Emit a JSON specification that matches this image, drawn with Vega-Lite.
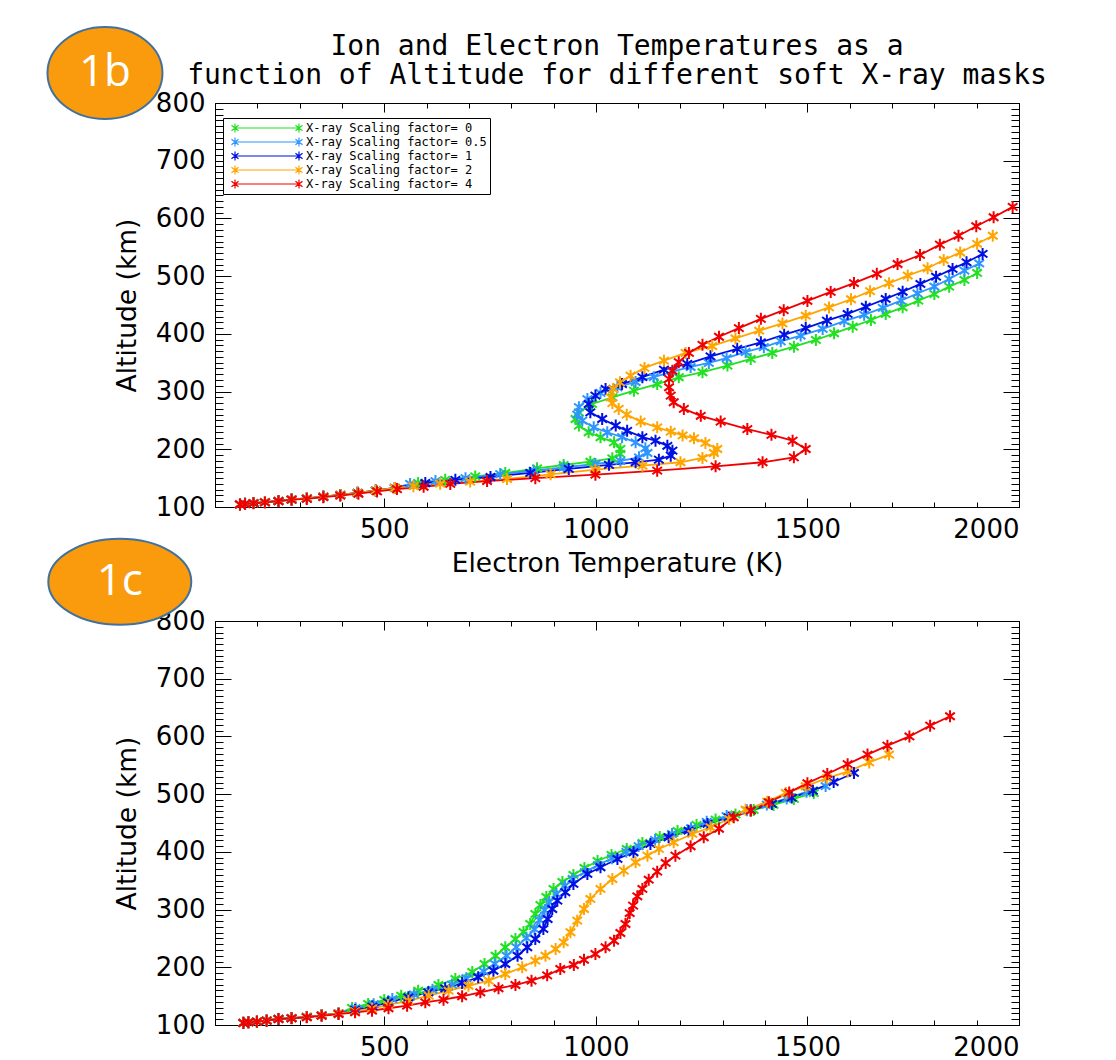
{
  "$schema": "https://vega.github.io/schema/vega-lite/v6.json",
  "padding": {"left": 42, "top": 22, "right": 0, "bottom": 0},
  "background": "white",
  "config": {
    "view": {"stroke": "black", "strokeWidth": 1},
    "axis": {
      "grid": false, "domain": false,
      "labelFont": "DejaVu Sans", "labelFontSize": 26, "labelColor": "black",
      "titleFont": "DejaVu Sans", "titleFontSize": 26.5, "titleFontWeight": "normal", "titleColor": "black",
      "tickColor": "black", "tickWidth": 1
    },
    "title": {"font": "DejaVu Sans Mono", "fontSize": 28, "fontWeight": "normal", "color": "black", "lineHeight": 29},
    "legend": {
      "orient": "none", "legendX": 8, "legendY": 15,
      "symbolType": "M-1,0L1,0M-1,-0.14L-1,0.14M-1.11,-0.085L-0.89,0.085M-1.11,0.085L-0.89,-0.085M1,-0.14L1,0.14M0.89,-0.085L1.11,0.085M0.89,0.085L1.11,-0.085",
      "symbolSize": 4096, "symbolStrokeWidth": 1.2, "symbolFillColor": "transparent",
      "clipHeight": 14, "rowPadding": 0, "symbolOffset": 8,
      "labelFont": "DejaVu Sans Mono", "labelFontSize": 12, "labelColor": "black", "labelOffset": 6, "labelLimit": 400,
      "padding": 3, "strokeColor": "black", "fillColor": "white", "cornerRadius": 0
    }
  },
  "datasets": {
    "electron": [
      {"factor":"0","temp":1901,"alt":505.5},{"factor":"0","temp":1871,"alt":493.4},{"factor":"0","temp":1835,"alt":481.8},{"factor":"0","temp":1800,"alt":469},{"factor":"0","temp":1762,"alt":457.5},{"factor":"0","temp":1725,"alt":446},{"factor":"0","temp":1685,"alt":434.5},{"factor":"0","temp":1650,"alt":424},{"factor":"0","temp":1607,"alt":412.5},{"factor":"0","temp":1563,"alt":401},{"factor":"0","temp":1520,"alt":389.4},{"factor":"0","temp":1468,"alt":377.8},{"factor":"0","temp":1417,"alt":367},{"factor":"0","temp":1366,"alt":356.5},{"factor":"0","temp":1311,"alt":345},{"factor":"0","temp":1252,"alt":333.5},{"factor":"0","temp":1196,"alt":324.8},{"factor":"0","temp":1145,"alt":313},{"factor":"0","temp":1090,"alt":301.6},{"factor":"0","temp":1039,"alt":290},{"factor":"0","temp":991,"alt":278.5},{"factor":"0","temp":960,"alt":264},{"factor":"0","temp":952,"alt":252.5},{"factor":"0","temp":960,"alt":241},{"factor":"0","temp":983,"alt":229.5},{"factor":"0","temp":1011,"alt":220.8},{"factor":"0","temp":1043,"alt":212},{"factor":"0","temp":1058,"alt":200.5},{"factor":"0","temp":1058,"alt":192},{"factor":"0","temp":1039,"alt":184.4},{"factor":"0","temp":987,"alt":178.5},{"factor":"0","temp":924,"alt":172.8},{"factor":"0","temp":861,"alt":167},{"factor":"0","temp":786,"alt":159},{"factor":"0","temp":715,"alt":153},{"factor":"0","temp":644,"alt":147},{"factor":"0","temp":580,"alt":141.6},{"factor":"0","temp":525,"alt":133},{"factor":"0","temp":480,"alt":128.5},{"factor":"0","temp":437,"alt":124.5},{"factor":"0","temp":396,"alt":121},{"factor":"0","temp":356,"alt":118},{"factor":"0","temp":317,"alt":115},{"factor":"0","temp":281,"alt":113},{"factor":"0","temp":250,"alt":110.5},{"factor":"0","temp":218,"alt":108.5},{"factor":"0","temp":191,"alt":106.8},{"factor":"0","temp":171,"alt":105.5},{"factor":"0","temp":159,"alt":104.5},
      {"factor":"0.5","temp":1906,"alt":522},{"factor":"0.5","temp":1871,"alt":509.5},{"factor":"0.5","temp":1835,"alt":495},{"factor":"0.5","temp":1800,"alt":482},{"factor":"0.5","temp":1760,"alt":470},{"factor":"0.5","temp":1721,"alt":457.5},{"factor":"0.5","temp":1678,"alt":445},{"factor":"0.5","temp":1634,"alt":433},{"factor":"0.5","temp":1587,"alt":422},{"factor":"0.5","temp":1536,"alt":408.5},{"factor":"0.5","temp":1484,"alt":397},{"factor":"0.5","temp":1437,"alt":387},{"factor":"0.5","temp":1397,"alt":377},{"factor":"0.5","temp":1354,"alt":368.6},{"factor":"0.5","temp":1309,"alt":358},{"factor":"0.5","temp":1267,"alt":349.6},{"factor":"0.5","temp":1224,"alt":342.6},{"factor":"0.5","temp":1181,"alt":334.5},{"factor":"0.5","temp":1137,"alt":325},{"factor":"0.5","temp":1094,"alt":316.6},{"factor":"0.5","temp":1051,"alt":307.5},{"factor":"0.5","temp":1011,"alt":297.6},{"factor":"0.5","temp":980,"alt":287},{"factor":"0.5","temp":960,"alt":273},{"factor":"0.5","temp":956,"alt":260},{"factor":"0.5","temp":968,"alt":249.6},{"factor":"0.5","temp":995,"alt":238},{"factor":"0.5","temp":1027,"alt":229.5},{"factor":"0.5","temp":1062,"alt":221},{"factor":"0.5","temp":1094,"alt":212},{"factor":"0.5","temp":1117,"alt":201.7},{"factor":"0.5","temp":1122,"alt":193.6},{"factor":"0.5","temp":1102,"alt":186},{"factor":"0.5","temp":1058,"alt":180},{"factor":"0.5","temp":999,"alt":174.5},{"factor":"0.5","temp":924,"alt":168.8},{"factor":"0.5","temp":853,"alt":163},{"factor":"0.5","temp":774,"alt":157},{"factor":"0.5","temp":692,"alt":150},{"factor":"0.5","temp":621,"alt":145},{"factor":"0.5","temp":561,"alt":140},{"factor":"0.5","temp":525,"alt":133},{"factor":"0.5","temp":480,"alt":128.5},{"factor":"0.5","temp":437,"alt":124.5},{"factor":"0.5","temp":396,"alt":121},{"factor":"0.5","temp":356,"alt":118},{"factor":"0.5","temp":317,"alt":115},{"factor":"0.5","temp":281,"alt":113},{"factor":"0.5","temp":250,"alt":110.5},{"factor":"0.5","temp":218,"alt":108.5},{"factor":"0.5","temp":191,"alt":106.8},{"factor":"0.5","temp":171,"alt":105.5},{"factor":"0.5","temp":159,"alt":104.5},
      {"factor":"1","temp":1914,"alt":538.5},{"factor":"1","temp":1876,"alt":524},{"factor":"1","temp":1843,"alt":512.5},{"factor":"1","temp":1804,"alt":499},{"factor":"1","temp":1767,"alt":486.5},{"factor":"1","temp":1725,"alt":473},{"factor":"1","temp":1685,"alt":460.5},{"factor":"1","temp":1638,"alt":447},{"factor":"1","temp":1595,"alt":434.5},{"factor":"1","temp":1546,"alt":423},{"factor":"1","temp":1496,"alt":410},{"factor":"1","temp":1445,"alt":398.6},{"factor":"1","temp":1390,"alt":385.4},{"factor":"1","temp":1334,"alt":374},{"factor":"1","temp":1271,"alt":361},{"factor":"1","temp":1216,"alt":348},{"factor":"1","temp":1161,"alt":338},{"factor":"1","temp":1110,"alt":325},{"factor":"1","temp":1062,"alt":313},{"factor":"1","temp":1023,"alt":304.5},{"factor":"1","temp":999,"alt":293},{"factor":"1","temp":983,"alt":278.5},{"factor":"1","temp":987,"alt":264},{"factor":"1","temp":1015,"alt":252.5},{"factor":"1","temp":1047,"alt":241},{"factor":"1","temp":1074,"alt":232},{"factor":"1","temp":1110,"alt":221},{"factor":"1","temp":1141,"alt":215},{"factor":"1","temp":1169,"alt":206},{"factor":"1","temp":1181,"alt":197.6},{"factor":"1","temp":1177,"alt":189},{"factor":"1","temp":1149,"alt":182},{"factor":"1","temp":1094,"alt":177.5},{"factor":"1","temp":1031,"alt":173},{"factor":"1","temp":936,"alt":166},{"factor":"1","temp":845,"alt":159},{"factor":"1","temp":751,"alt":152},{"factor":"1","temp":668,"alt":147},{"factor":"1","temp":597,"alt":141.6},{"factor":"1","temp":525,"alt":133},{"factor":"1","temp":480,"alt":128.5},{"factor":"1","temp":437,"alt":124.5},{"factor":"1","temp":396,"alt":121},{"factor":"1","temp":356,"alt":118},{"factor":"1","temp":317,"alt":115},{"factor":"1","temp":281,"alt":113},{"factor":"1","temp":250,"alt":110.5},{"factor":"1","temp":218,"alt":108.5},{"factor":"1","temp":191,"alt":106.8},{"factor":"1","temp":171,"alt":105.5},{"factor":"1","temp":159,"alt":104.5},
      {"factor":"2","temp":1938,"alt":570},{"factor":"2","temp":1901,"alt":556},{"factor":"2","temp":1861,"alt":541},{"factor":"2","temp":1822,"alt":528},{"factor":"2","temp":1784,"alt":513.7},{"factor":"2","temp":1737,"alt":501},{"factor":"2","temp":1693,"alt":487.7},{"factor":"2","temp":1648,"alt":474},{"factor":"2","temp":1603,"alt":460},{"factor":"2","temp":1551,"alt":445.8},{"factor":"2","temp":1496,"alt":431.5},{"factor":"2","temp":1441,"alt":418},{"factor":"2","temp":1386,"alt":405.5},{"factor":"2","temp":1330,"alt":392},{"factor":"2","temp":1275,"alt":379},{"factor":"2","temp":1212,"alt":367},{"factor":"2","temp":1161,"alt":353.5},{"factor":"2","temp":1115,"alt":341},{"factor":"2","temp":1082,"alt":327.6},{"factor":"2","temp":1057,"alt":316},{"factor":"2","temp":1041,"alt":304.5},{"factor":"2","temp":1035,"alt":290},{"factor":"2","temp":1039,"alt":280},{"factor":"2","temp":1054,"alt":270},{"factor":"2","temp":1073,"alt":260},{"factor":"2","temp":1106,"alt":248},{"factor":"2","temp":1145,"alt":238},{"factor":"2","temp":1177,"alt":230.5},{"factor":"2","temp":1205,"alt":224},{"factor":"2","temp":1232,"alt":219},{"factor":"2","temp":1259,"alt":211},{"factor":"2","temp":1287,"alt":200.5},{"factor":"2","temp":1279,"alt":193.6},{"factor":"2","temp":1252,"alt":185},{"factor":"2","temp":1200,"alt":177.5},{"factor":"2","temp":1110,"alt":171.6},{"factor":"2","temp":999,"alt":164.6},{"factor":"2","temp":893,"alt":156.7},{"factor":"2","temp":790,"alt":148.5},{"factor":"2","temp":703,"alt":144},{"factor":"2","temp":632,"alt":140.4},{"factor":"2","temp":569,"alt":136},{"factor":"2","temp":525,"alt":133},{"factor":"2","temp":480,"alt":128.5},{"factor":"2","temp":437,"alt":124.5},{"factor":"2","temp":396,"alt":121},{"factor":"2","temp":356,"alt":118},{"factor":"2","temp":317,"alt":115},{"factor":"2","temp":281,"alt":113},{"factor":"2","temp":250,"alt":110.5},{"factor":"2","temp":218,"alt":108.5},{"factor":"2","temp":191,"alt":106.8},{"factor":"2","temp":171,"alt":105.5},{"factor":"2","temp":159,"alt":104.5},
      {"factor":"4","temp":1985,"alt":620},{"factor":"4","temp":1940,"alt":602},{"factor":"4","temp":1899,"alt":586.5},{"factor":"4","temp":1857,"alt":570},{"factor":"4","temp":1813,"alt":554.6},{"factor":"4","temp":1766,"alt":536.7},{"factor":"4","temp":1713,"alt":521},{"factor":"4","temp":1664,"alt":504},{"factor":"4","temp":1610,"alt":488},{"factor":"4","temp":1555,"alt":472.6},{"factor":"4","temp":1500,"alt":457},{"factor":"4","temp":1444,"alt":441},{"factor":"4","temp":1390,"alt":426},{"factor":"4","temp":1338,"alt":410},{"factor":"4","temp":1291,"alt":395},{"factor":"4","temp":1252,"alt":381},{"factor":"4","temp":1220,"alt":367},{"factor":"4","temp":1196,"alt":351},{"factor":"4","temp":1181,"alt":336},{"factor":"4","temp":1173,"alt":322},{"factor":"4","temp":1173,"alt":307.5},{"factor":"4","temp":1177,"alt":293},{"factor":"4","temp":1184,"alt":281.5},{"factor":"4","temp":1208,"alt":270},{"factor":"4","temp":1248,"alt":258},{"factor":"4","temp":1295,"alt":248},{"factor":"4","temp":1358,"alt":235},{"factor":"4","temp":1415,"alt":225},{"factor":"4","temp":1465,"alt":215},{"factor":"4","temp":1496,"alt":200.5},{"factor":"4","temp":1468,"alt":186},{"factor":"4","temp":1394,"alt":177.5},{"factor":"4","temp":1283,"alt":170.5},{"factor":"4","temp":1145,"alt":163},{"factor":"4","temp":999,"alt":156},{"factor":"4","temp":857,"alt":150},{"factor":"4","temp":743,"alt":145},{"factor":"4","temp":656,"alt":140},{"factor":"4","temp":593,"alt":135},{"factor":"4","temp":530,"alt":131},{"factor":"4","temp":483,"alt":127},{"factor":"4","temp":439,"alt":123},{"factor":"4","temp":396,"alt":119.6},{"factor":"4","temp":356,"alt":117},{"factor":"4","temp":317,"alt":114},{"factor":"4","temp":281,"alt":112.7},{"factor":"4","temp":250,"alt":110},{"factor":"4","temp":218,"alt":108},{"factor":"4","temp":191,"alt":106.4},{"factor":"4","temp":171,"alt":105.2},{"factor":"4","temp":159,"alt":104.3}
    ],
    "ion": [
      {"factor":"0","temp":1515,"alt":502},{"factor":"0","temp":1468,"alt":491.7},{"factor":"0","temp":1420,"alt":481.3},{"factor":"0","temp":1373,"alt":472.6},{"factor":"0","temp":1330,"alt":464.8},{"factor":"0","temp":1283,"alt":456},{"factor":"0","temp":1238,"alt":446.7},{"factor":"0","temp":1193,"alt":436.2},{"factor":"0","temp":1151,"alt":425.8},{"factor":"0","temp":1110,"alt":415.4},{"factor":"0","temp":1073,"alt":405},{"factor":"0","temp":1037,"alt":394.6},{"factor":"0","temp":1004,"alt":384.2},{"factor":"0","temp":973,"alt":372},{"factor":"0","temp":947,"alt":360},{"factor":"0","temp":921,"alt":347.8},{"factor":"0","temp":900,"alt":335.7},{"factor":"0","temp":883,"alt":321.8},{"factor":"0","temp":869,"alt":308},{"factor":"0","temp":857,"alt":292.4},{"factor":"0","temp":845,"alt":275},{"factor":"0","temp":829,"alt":261.2},{"factor":"0","temp":810,"alt":249},{"factor":"0","temp":786,"alt":234.7},{"factor":"0","temp":763,"alt":220},{"factor":"0","temp":737,"alt":205.7},{"factor":"0","temp":708,"alt":191.9},{"factor":"0","temp":668,"alt":179.7},{"factor":"0","temp":628,"alt":169.3},{"factor":"0","temp":580,"alt":159.4},{"factor":"0","temp":540,"alt":150.8},{"factor":"0","temp":500,"alt":143.3},{"factor":"0","temp":462,"alt":136.4},{"factor":"0","temp":424,"alt":129.5},{"factor":"0","temp":392,"alt":120},{"factor":"0","temp":352,"alt":116.8},{"factor":"0","temp":317,"alt":114},{"factor":"0","temp":281,"alt":112},{"factor":"0","temp":250,"alt":110.6},{"factor":"0","temp":222,"alt":107.8},{"factor":"0","temp":199,"alt":106},{"factor":"0","temp":179,"alt":104.9},{"factor":"0","temp":167,"alt":103.7},
      {"factor":"0.5","temp":1543,"alt":514},{"factor":"0.5","temp":1498,"alt":504},{"factor":"0.5","temp":1451,"alt":492.5},{"factor":"0.5","temp":1404,"alt":482},{"factor":"0.5","temp":1357,"alt":472},{"factor":"0.5","temp":1309,"alt":462},{"factor":"0.5","temp":1262,"alt":452},{"factor":"0.5","temp":1225,"alt":441},{"factor":"0.5","temp":1180,"alt":431},{"factor":"0.5","temp":1140,"alt":420.6},{"factor":"0.5","temp":1101,"alt":410},{"factor":"0.5","temp":1072,"alt":400},{"factor":"0.5","temp":1038,"alt":389},{"factor":"0.5","temp":1005,"alt":377},{"factor":"0.5","temp":974,"alt":365},{"factor":"0.5","temp":945,"alt":353},{"factor":"0.5","temp":927,"alt":341},{"factor":"0.5","temp":907,"alt":327},{"factor":"0.5","temp":890,"alt":313},{"factor":"0.5","temp":879,"alt":299},{"factor":"0.5","temp":867,"alt":282},{"factor":"0.5","temp":855,"alt":266},{"factor":"0.5","temp":836,"alt":251},{"factor":"0.5","temp":812,"alt":235},{"factor":"0.5","temp":789,"alt":220},{"factor":"0.5","temp":761,"alt":206},{"factor":"0.5","temp":735,"alt":193},{"factor":"0.5","temp":694,"alt":181},{"factor":"0.5","temp":660,"alt":170},{"factor":"0.5","temp":614,"alt":161},{"factor":"0.5","temp":570,"alt":153},{"factor":"0.5","temp":519,"alt":145},{"factor":"0.5","temp":475,"alt":136},{"factor":"0.5","temp":432,"alt":129},{"factor":"0.5","temp":392,"alt":120},{"factor":"0.5","temp":352,"alt":116.8},{"factor":"0.5","temp":317,"alt":114},{"factor":"0.5","temp":281,"alt":112},{"factor":"0.5","temp":250,"alt":110.6},{"factor":"0.5","temp":222,"alt":107.8},{"factor":"0.5","temp":199,"alt":106},{"factor":"0.5","temp":179,"alt":104.9},{"factor":"0.5","temp":167,"alt":103.7},
      {"factor":"1","temp":1610,"alt":536.7},{"factor":"1","temp":1562,"alt":521},{"factor":"1","temp":1513,"alt":506},{"factor":"1","temp":1463,"alt":494},{"factor":"1","temp":1416,"alt":483},{"factor":"1","temp":1366,"alt":472},{"factor":"1","temp":1314,"alt":459.6},{"factor":"1","temp":1264,"alt":448.4},{"factor":"1","temp":1219,"alt":436.7},{"factor":"1","temp":1172,"alt":425.3},{"factor":"1","temp":1129,"alt":413.7},{"factor":"1","temp":1089,"alt":399.3},{"factor":"1","temp":1051,"alt":387.7},{"factor":"1","temp":1011,"alt":373.3},{"factor":"1","temp":980,"alt":361.7},{"factor":"1","temp":947,"alt":344.4},{"factor":"1","temp":928,"alt":330},{"factor":"1","temp":909,"alt":315.4},{"factor":"1","temp":897,"alt":301},{"factor":"1","temp":886,"alt":283.7},{"factor":"1","temp":876,"alt":266.4},{"factor":"1","temp":857,"alt":249},{"factor":"1","temp":838,"alt":234.7},{"factor":"1","temp":815,"alt":220},{"factor":"1","temp":786,"alt":205.7},{"factor":"1","temp":758,"alt":194},{"factor":"1","temp":722,"alt":182.7},{"factor":"1","temp":684,"alt":172.8},{"factor":"1","temp":644,"alt":163.6},{"factor":"1","temp":604,"alt":156.7},{"factor":"1","temp":557,"alt":148},{"factor":"1","temp":509,"alt":139.3},{"factor":"1","temp":472,"alt":132},{"factor":"1","temp":431,"alt":126},{"factor":"1","temp":392,"alt":120},{"factor":"1","temp":352,"alt":116.8},{"factor":"1","temp":317,"alt":114},{"factor":"1","temp":281,"alt":112},{"factor":"1","temp":250,"alt":110.6},{"factor":"1","temp":222,"alt":107.8},{"factor":"1","temp":199,"alt":106},{"factor":"1","temp":179,"alt":104.9},{"factor":"1","temp":167,"alt":103.7},
      {"factor":"2","temp":1693,"alt":568.5},{"factor":"2","temp":1646,"alt":555},{"factor":"2","temp":1595,"alt":539},{"factor":"2","temp":1546,"alt":527.6},{"factor":"2","temp":1496,"alt":513.7},{"factor":"2","temp":1449,"alt":502},{"factor":"2","temp":1405,"alt":487},{"factor":"2","temp":1354,"alt":473},{"factor":"2","temp":1315,"alt":457},{"factor":"2","temp":1271,"alt":442.6},{"factor":"2","temp":1228,"alt":431},{"factor":"2","temp":1184,"alt":416.6},{"factor":"2","temp":1149,"alt":405},{"factor":"2","temp":1122,"alt":393.4},{"factor":"2","temp":1094,"alt":382},{"factor":"2","temp":1066,"alt":367.4},{"factor":"2","temp":1039,"alt":353},{"factor":"2","temp":1011,"alt":335.7},{"factor":"2","temp":987,"alt":318.4},{"factor":"2","temp":972,"alt":301},{"factor":"2","temp":956,"alt":280.8},{"factor":"2","temp":940,"alt":260.7},{"factor":"2","temp":924,"alt":243.3},{"factor":"2","temp":905,"alt":231.7},{"factor":"2","temp":881,"alt":220},{"factor":"2","temp":857,"alt":211.4},{"factor":"2","temp":826,"alt":200},{"factor":"2","temp":786,"alt":188.4},{"factor":"2","temp":747,"alt":176.8},{"factor":"2","temp":699,"alt":168},{"factor":"2","temp":652,"alt":159.4},{"factor":"2","temp":605,"alt":150.8},{"factor":"2","temp":557,"alt":142},{"factor":"2","temp":509,"alt":134.7},{"factor":"2","temp":471,"alt":128.6},{"factor":"2","temp":431,"alt":124},{"factor":"2","temp":392,"alt":120},{"factor":"2","temp":352,"alt":116.8},{"factor":"2","temp":317,"alt":114},{"factor":"2","temp":281,"alt":112},{"factor":"2","temp":250,"alt":110.6},{"factor":"2","temp":222,"alt":107.8},{"factor":"2","temp":199,"alt":106},{"factor":"2","temp":179,"alt":104.9},{"factor":"2","temp":167,"alt":103.7},
      {"factor":"4","temp":1837,"alt":635},{"factor":"4","temp":1790,"alt":618.7},{"factor":"4","temp":1741,"alt":600},{"factor":"4","temp":1689,"alt":584},{"factor":"4","temp":1642,"alt":568.5},{"factor":"4","temp":1595,"alt":552},{"factor":"4","temp":1547,"alt":535},{"factor":"4","temp":1500,"alt":519},{"factor":"4","temp":1457,"alt":503},{"factor":"4","temp":1409,"alt":486},{"factor":"4","temp":1366,"alt":471.4},{"factor":"4","temp":1326,"alt":460},{"factor":"4","temp":1291,"alt":440},{"factor":"4","temp":1255,"alt":425.3},{"factor":"4","temp":1224,"alt":409.7},{"factor":"4","temp":1188,"alt":393.4},{"factor":"4","temp":1165,"alt":380.8},{"factor":"4","temp":1145,"alt":365.7},{"factor":"4","temp":1125,"alt":351.8},{"factor":"4","temp":1110,"alt":335.7},{"factor":"4","temp":1098,"alt":323},{"factor":"4","temp":1088,"alt":306.8},{"factor":"4","temp":1080,"alt":294},{"factor":"4","temp":1070,"alt":275},{"factor":"4","temp":1058,"alt":259.4},{"factor":"4","temp":1043,"alt":246},{"factor":"4","temp":1023,"alt":234.7},{"factor":"4","temp":999,"alt":223},{"factor":"4","temp":972,"alt":213},{"factor":"4","temp":948,"alt":204},{"factor":"4","temp":916,"alt":197},{"factor":"4","temp":885,"alt":186},{"factor":"4","temp":848,"alt":176.8},{"factor":"4","temp":810,"alt":169.3},{"factor":"4","temp":770,"alt":163.6},{"factor":"4","temp":727,"alt":156.7},{"factor":"4","temp":684,"alt":149.8},{"factor":"4","temp":640,"alt":143.8},{"factor":"4","temp":597,"alt":139.3},{"factor":"4","temp":554,"alt":133.4},{"factor":"4","temp":510,"alt":129},{"factor":"4","temp":471,"alt":124.8},{"factor":"4","temp":431,"alt":122},{"factor":"4","temp":392,"alt":119},{"factor":"4","temp":352,"alt":116},{"factor":"4","temp":317,"alt":113.3},{"factor":"4","temp":281,"alt":111.6},{"factor":"4","temp":250,"alt":110.4},{"factor":"4","temp":222,"alt":107.5},{"factor":"4","temp":199,"alt":105.7},{"factor":"4","temp":179,"alt":104.7},{"factor":"4","temp":167,"alt":103.5}
    ]
  },
  "vconcat": [
    {
      "width": 804, "height": 404,
      "title": {"text": ["Ion and Electron Temperatures as a", "function of Altitude for different soft X-ray masks"], "anchor": "middle", "frame": "group", "offset": -67},
      "data": {"name": "electron"},
      "layer": [
        {
          "mark": {"type": "line", "strokeWidth": 1.8},
          "encoding": {
            "x": {"field": "temp", "type": "quantitative", "scale": {"domain": [100, 2000], "nice": false, "zero": false},
                  "axis": {"orient": "bottom", "values": [500, 1000, 1500, 2000], "format": "d", "tickSize": -9, "labelPadding": 18, "title": "Electron Temperature (K)", "titlePadding": 8}},
            "y": {"field": "alt", "type": "quantitative", "scale": {"domain": [100, 800], "nice": false, "zero": false},
                  "axis": {"orient": "left", "values": [100, 200, 300, 400, 500, 600, 700, 800], "format": "d", "tickSize": -16, "labelPadding": 26, "title": "Altitude (km)", "titlePadding": 14}},
            "color": {"field": "factor", "type": "nominal",
                      "scale": {"domain": ["0", "0.5", "1", "2", "4"], "range": ["#22E022", "#2E95FF", "#0010E0", "#FFA500", "#F00000"]},
                      "legend": {"title": null, "labelExpr": "'X-ray Scaling factor= ' + datum.label"}},
            "order": {"value": null}
          }
        },
        {
          "mark": {"type": "point", "shape": "M0,-1L0,1M-0.8,-0.6L0.8,0.6M-0.8,0.6L0.8,-0.6", "size": 144, "filled": false, "strokeWidth": 2, "opacity": 1},
          "encoding": {
            "x": {"field": "temp", "type": "quantitative", "scale": {"domain": [100, 2000], "nice": false, "zero": false},
                  "axis": {"orient": "bottom", "values": [100, 200, 300, 400, 500, 600, 700, 800, 900, 1000, 1100, 1200, 1300, 1400, 1500, 1600, 1700, 1800, 1900, 2000], "tickSize": -5, "labels": false, "title": null}},
            "y": {"field": "alt", "type": "quantitative", "scale": {"domain": [100, 800], "nice": false, "zero": false},
                  "axis": {"orient": "left", "values": [100,110,120,130,140,150,160,170,180,190,200,210,220,230,240,250,260,270,280,290,300,310,320,330,340,350,360,370,380,390,400,410,420,430,440,450,460,470,480,490,500,510,520,530,540,550,560,570,580,590,600,610,620,630,640,650,660,670,680,690,700,710,720,730,740,750,760,770,780,790,800], "tickSize": -8, "labels": false, "title": null}},
            "color": {"field": "factor", "type": "nominal",
                      "scale": {"domain": ["0", "0.5", "1", "2", "4"], "range": ["#22E022", "#2E95FF", "#0010E0", "#FFA500", "#F00000"]},
                      "legend": {"title": null, "labelExpr": "'X-ray Scaling factor= ' + datum.label"}}
          }
        },
        {
          "data": {"values": [{"label": "1b", "temp": -160, "alt": 852}]},
          "mark": {"type": "point", "shape": "M-1,0C-1,-0.442,-0.552,-0.8,0,-0.8C0.552,-0.8,1,-0.442,1,0C1,0.442,0.552,0.8,0,0.8C-0.552,0.8,-1,0.442,-1,0Z", "size": 13225, "filled": true, "fill": "#F99B0C", "stroke": "#41719C", "strokeWidth": 2, "opacity": 1},
          "encoding": {
            "x": {"field": "temp", "type": "quantitative", "scale": {"domain": [100, 2000], "nice": false, "zero": false},
                  "axis": {"orient": "top", "values": [500, 1000, 1500, 2000], "tickSize": -9, "labels": false, "title": null}},
            "y": {"field": "alt", "type": "quantitative", "scale": {"domain": [100, 800], "nice": false, "zero": false},
                  "axis": {"orient": "right", "values": [100, 200, 300, 400, 500, 600, 700, 800], "tickSize": -16, "labels": false, "title": null}}
          }
        },
        {
          "data": {"values": [{"label": "1b", "temp": -160, "alt": 852}]},
          "mark": {"type": "text", "font": "Open Sans", "fontSize": 44, "color": "white", "align": "center", "baseline": "middle"},
          "encoding": {
            "x": {"field": "temp", "type": "quantitative", "scale": {"domain": [100, 2000], "nice": false, "zero": false},
                  "axis": {"orient": "top", "values": [100, 200, 300, 400, 500, 600, 700, 800, 900, 1000, 1100, 1200, 1300, 1400, 1500, 1600, 1700, 1800, 1900, 2000], "tickSize": -5, "labels": false, "title": null}},
            "y": {"field": "alt", "type": "quantitative", "scale": {"domain": [100, 800], "nice": false, "zero": false},
                  "axis": {"orient": "right", "values": [100,110,120,130,140,150,160,170,180,190,200,210,220,230,240,250,260,270,280,290,300,310,320,330,340,350,360,370,380,390,400,410,420,430,440,450,460,470,480,490,500,510,520,530,540,550,560,570,580,590,600,610,620,630,640,650,660,670,680,690,700,710,720,730,740,750,760,770,780,790,800], "tickSize": -8, "labels": false, "title": null}},
            "text": {"field": "label"}
          }
        }
      ],
      "resolve": {"axis": {"x": "independent", "y": "independent"}}
    },
    {
      "width": 804, "height": 404,
      "data": {"name": "ion"},
      "layer": [
        {
          "mark": {"type": "line", "strokeWidth": 1.8},
          "encoding": {
            "x": {"field": "temp", "type": "quantitative", "scale": {"domain": [100, 2000], "nice": false, "zero": false},
                  "axis": {"orient": "bottom", "values": [500, 1000, 1500, 2000], "format": "d", "tickSize": -9, "labelPadding": 18, "title": null}},
            "y": {"field": "alt", "type": "quantitative", "scale": {"domain": [100, 800], "nice": false, "zero": false},
                  "axis": {"orient": "left", "values": [100, 200, 300, 400, 500, 600, 700, 800], "format": "d", "tickSize": -16, "labelPadding": 26, "title": "Altitude (km)", "titlePadding": 14}},
            "color": {"field": "factor", "type": "nominal",
                      "scale": {"domain": ["0", "0.5", "1", "2", "4"], "range": ["#22E022", "#2E95FF", "#0010E0", "#FFA500", "#F00000"]},
                      "legend": {"title": null, "labelExpr": "'X-ray Scaling factor= ' + datum.label"}},
            "order": {"value": null}
          }
        },
        {
          "mark": {"type": "point", "shape": "M0,-1L0,1M-0.8,-0.6L0.8,0.6M-0.8,0.6L0.8,-0.6", "size": 144, "filled": false, "strokeWidth": 2, "opacity": 1},
          "encoding": {
            "x": {"field": "temp", "type": "quantitative", "scale": {"domain": [100, 2000], "nice": false, "zero": false},
                  "axis": {"orient": "bottom", "values": [100, 200, 300, 400, 500, 600, 700, 800, 900, 1000, 1100, 1200, 1300, 1400, 1500, 1600, 1700, 1800, 1900, 2000], "tickSize": -5, "labels": false, "title": null}},
            "y": {"field": "alt", "type": "quantitative", "scale": {"domain": [100, 800], "nice": false, "zero": false},
                  "axis": {"orient": "left", "values": [100,110,120,130,140,150,160,170,180,190,200,210,220,230,240,250,260,270,280,290,300,310,320,330,340,350,360,370,380,390,400,410,420,430,440,450,460,470,480,490,500,510,520,530,540,550,560,570,580,590,600,610,620,630,640,650,660,670,680,690,700,710,720,730,740,750,760,770,780,790,800], "tickSize": -8, "labels": false, "title": null}},
            "color": {"field": "factor", "type": "nominal",
                      "scale": {"domain": ["0", "0.5", "1", "2", "4"], "range": ["#22E022", "#2E95FF", "#0010E0", "#FFA500", "#F00000"]},
                      "legend": {"title": null, "labelExpr": "'X-ray Scaling factor= ' + datum.label"}}
          }
        },
        {
          "data": {"values": [{"label": "1c", "temp": -125, "alt": 868}]},
          "mark": {"type": "point", "shape": "M-1,0C-1,-0.331,-0.552,-0.6,0,-0.6C0.552,-0.6,1,-0.331,1,0C1,0.331,0.552,0.6,0,0.6C-0.552,0.6,-1,0.331,-1,0Z", "size": 20449, "filled": true, "fill": "#F99B0C", "stroke": "#41719C", "strokeWidth": 2, "opacity": 1},
          "encoding": {
            "x": {"field": "temp", "type": "quantitative", "scale": {"domain": [100, 2000], "nice": false, "zero": false},
                  "axis": {"orient": "top", "values": [500, 1000, 1500, 2000], "tickSize": -9, "labels": false, "title": null}},
            "y": {"field": "alt", "type": "quantitative", "scale": {"domain": [100, 800], "nice": false, "zero": false},
                  "axis": {"orient": "right", "values": [100, 200, 300, 400, 500, 600, 700, 800], "tickSize": -16, "labels": false, "title": null}}
          }
        },
        {
          "data": {"values": [{"label": "1c", "temp": -125, "alt": 868}]},
          "mark": {"type": "text", "font": "Open Sans", "fontSize": 44, "color": "white", "align": "center", "baseline": "middle"},
          "encoding": {
            "x": {"field": "temp", "type": "quantitative", "scale": {"domain": [100, 2000], "nice": false, "zero": false},
                  "axis": {"orient": "top", "values": [100, 200, 300, 400, 500, 600, 700, 800, 900, 1000, 1100, 1200, 1300, 1400, 1500, 1600, 1700, 1800, 1900, 2000], "tickSize": -5, "labels": false, "title": null}},
            "y": {"field": "alt", "type": "quantitative", "scale": {"domain": [100, 800], "nice": false, "zero": false},
                  "axis": {"orient": "right", "values": [100,110,120,130,140,150,160,170,180,190,200,210,220,230,240,250,260,270,280,290,300,310,320,330,340,350,360,370,380,390,400,410,420,430,440,450,460,470,480,490,500,510,520,530,540,550,560,570,580,590,600,610,620,630,640,650,660,670,680,690,700,710,720,730,740,750,760,770,780,790,800], "tickSize": -8, "labels": false, "title": null}},
            "text": {"field": "label"}
          }
        }
      ],
      "resolve": {"axis": {"x": "independent", "y": "independent"}}
    }
  ],
  "spacing": 114,
  "bounds": "flush"
}
